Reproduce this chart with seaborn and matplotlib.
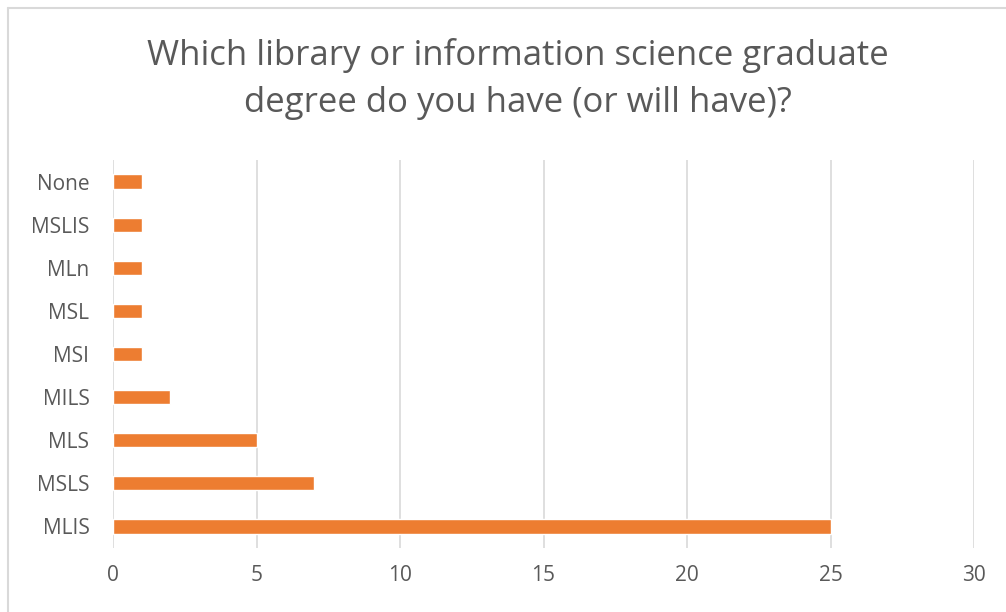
import matplotlib
matplotlib.use("Agg")
import matplotlib.pyplot as plt
import seaborn as sns
import pandas as pd
from matplotlib.lines import Line2D

categories = ["None", "MSLIS", "MLn", "MSL", "MSI", "MILS", "MLS", "MSLS", "MLIS"]
counts = [1, 1, 1, 1, 1, 2, 5, 7, 25]
xticks = [0, 5, 10, 15, 20, 25, 30]
title = "Which library or information science graduate\ndegree do you have (or will have)?"

sns.set_theme(style="white")
plt.rcParams['font.family'] = ['Open Sans', 'DejaVu Sans']

df = pd.DataFrame({"degree": categories, "count": counts})

fig = plt.figure(figsize=(10.06, 6.12), dpi=100)
ax = fig.add_axes([113/1006, 1-548/612, (974-113)/1006, (548-160)/612])

sns.barplot(data=df, y="degree", x="count", order=categories, color="#ED7D31",
            saturation=1, width=0.33, ax=ax, zorder=3)

ax.set_xlim(0, 30)
ax.set_ylim(8.5, -0.5)
ax.set_xticks(xticks)
ax.set_xticklabels([str(t) for t in xticks])
ax.grid(axis="x", color="#D9D9D9", linewidth=1.2, zorder=0)
ax.set_axisbelow(True)
for s in ax.spines.values():
    s.set_visible(False)
ax.tick_params(axis="both", length=0, labelsize=15, labelcolor="#595959")
ax.tick_params(axis="x", pad=12)
ax.tick_params(axis="y", pad=17)
ax.set_xlabel("")
ax.set_ylabel("")

fig.text(0.515, 1-79/612, title, ha="center", va="center", fontsize=25,
         color="#595959", linespacing=1.5)

# chart frame
fig.add_artist(Line2D([8/1006, 8/1006], [0, 1-8/612], color="#D9D9D9", lw=1.5, transform=fig.transFigure))
fig.add_artist(Line2D([8/1006, 1], [1-8/612, 1-8/612], color="#D9D9D9", lw=1.5, transform=fig.transFigure))

fig.savefig("out.png", dpi=100)
